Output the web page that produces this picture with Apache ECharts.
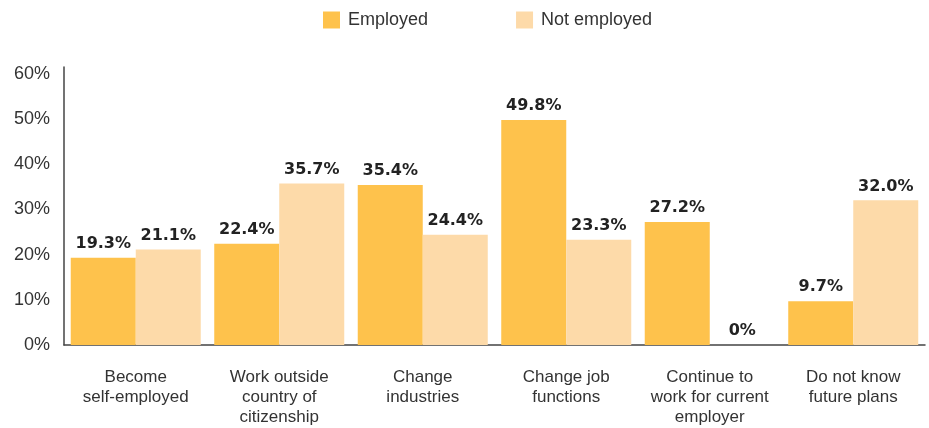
<!DOCTYPE html>
<html>
<head>
<meta charset="utf-8">
<script src="https://cdn.jsdelivr.net/npm/echarts@6/dist/echarts.min.js"></script>
<style>
  html, body { margin: 0; padding: 0; background: #fff; }
  #chart { width: 929px; height: 428px; }
</style>
</head>
<body>
<div id="chart"></div>
<script>
// Future career plans, by employment status (share of respondents, %)
const categories = [
  'Become\nself-employed',
  'Work outside\ncountry of\ncitizenship',
  'Change\nindustries',
  'Change job\nfunctions',
  'Continue to\nwork for current\nemployer',
  'Do not know\nfuture plans'
];
const employed = [19.3, 22.4, 35.4, 49.8, 27.2, 9.7];
const notEmployed = [21.1, 35.7, 24.4, 23.3, 0, 32.0];
const seriesNames = ['Employed', 'Not employed'];
const yTicks = [0, 10, 20, 30, 40, 50, 60];

const colors = ['#FEC24C', '#FDDAA9'];
const baseFont = '"Liberation Sans", Arial, sans-serif';

function pct(v) {
  return v === 0 ? '0%' : v.toFixed(1) + '%';
}

const valueLabel = {
  show: true,
  position: 'top',
  distance: 6,
  fontFamily: '"DejaVu Sans", sans-serif',
  fontWeight: 'bold',
  fontSize: 16,
  color: '#222',
  formatter: p => pct(p.value)
};

const chart = echarts.init(document.getElementById('chart'), null, { renderer: 'canvas' });
chart.setOption({
  animation: false,
  backgroundColor: '#fff',
  legend: {
    top: 6,
    left: 318,
    itemWidth: 17,
    itemHeight: 17,
    itemGap: 88,
    icon: 'rect',
    textStyle: {
      fontFamily: baseFont,
      fontSize: 18,
      color: '#333',
      padding: [0, 0, 0, 3]
    },
    data: seriesNames
  },
  grid: { left: 64, right: 4, top: 67, bottom: 83, containLabel: false },
  xAxis: {
    type: 'category',
    data: categories,
    axisLine: { show: true, lineStyle: { color: '#444', width: 1.5 } },
    axisTick: { show: false },
    axisLabel: {
      margin: 22,
      interval: 0,
      fontFamily: baseFont,
      fontSize: 17,
      lineHeight: 20,
      color: '#333',
      align: 'center'
    }
  },
  yAxis: {
    type: 'value',
    min: yTicks[0],
    max: 61.5,
    interval: 10,
    axisLine: { show: true, lineStyle: { color: '#444', width: 1.5 } },
    axisTick: { show: false },
    splitLine: { show: false },
    axisLabel: {
      margin: 14,
      fontFamily: baseFont,
      fontSize: 18,
      color: '#333',
      showMaxLabel: false,
      formatter: v => (yTicks.indexOf(v) >= 0 ? v + '%' : '')
    }
  },
  series: [
    {
      name: seriesNames[0],
      type: 'bar',
      data: employed,
      itemStyle: { color: colors[0] },
      barGap: '0%',
      barCategoryGap: '9.4%',
      label: valueLabel
    },
    {
      name: seriesNames[1],
      type: 'bar',
      data: notEmployed,
      itemStyle: { color: colors[1] },
      barGap: '0%',
      barCategoryGap: '9.4%',
      label: valueLabel
    }
  ]
});
</script>
</body>
</html>
